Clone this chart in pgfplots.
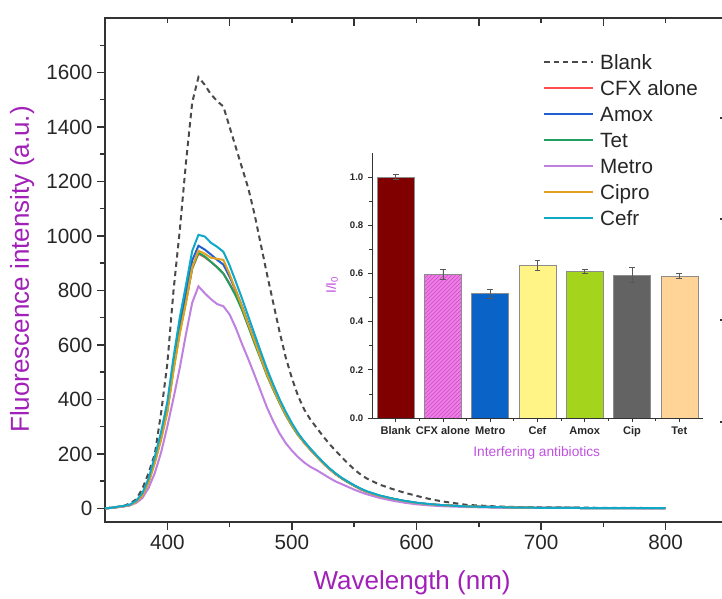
\documentclass[border=0pt]{standalone}
\usepackage{pgfplots}
\pgfplotsset{compat=1.18}
\usepackage{pgfplotstable}
\usepackage{fontspec}
\setmainfont{Liberation Sans}
\usetikzlibrary{patterns}

\definecolor{cBlank}{HTML}{4A4A4A}
\definecolor{cCFX}{HTML}{FF4D4D}
\definecolor{cAmox}{HTML}{1F5FD0}
\definecolor{cTet}{HTML}{1FA060}
\definecolor{cMetro}{HTML}{C080E0}
\definecolor{cCipro}{HTML}{E0A020}
\definecolor{cCefr}{HTML}{10A8C8}
\definecolor{labpurple}{HTML}{A020B8}
\definecolor{insetpurple}{HTML}{C050E0}
\definecolor{axgray}{HTML}{333333}
\definecolor{cbarred}{HTML}{800000}
\definecolor{cbarpink}{HTML}{F07CE8}
\definecolor{cbarpinkdark}{HTML}{C850C0}
\definecolor{cbarblue}{HTML}{0A64C8}
\definecolor{cbaryellow}{HTML}{FFF485}
\definecolor{cbargreen}{HTML}{A4D41C}
\definecolor{cbargray}{HTML}{636363}
\definecolor{cbarorange}{HTML}{FFD496}

\pgfplotstableread{
wl blank cfx amox tet metro cipro cefr
350 0 0 0 0 0 0 0
355 2 2 2 2 2 2 2
360 5 5 5 5 4 5 6
365 9 8 8 8 7 8 9
370 18 12 12 12 11 12 14
375 33 24 25 24 20 24 28
380 72 48 50 48 38 47 56
385 130 98 102 97 75 95 110
390 200 172 178 170 130 168 190
395 350 258 266 256 205 252 280
400 530 360 372 358 300 352 390
405 800 515 535 512 405 505 555
410 1020 650 675 648 515 640 700
415 1270 760 790 760 640 755 820
420 1490 880 910 882 755 885 945
425 1583 935 964 938 815 946 1004
430 1555 922 950 925 790 935 998
435 1520 905 932 905 768 920 975
440 1495 885 912 885 750 916 960
445 1475 862 895 862 742 912 942
450 1400 825 850 822 712 860 892
455 1325 785 800 780 662 800 832
460 1250 732 742 728 603 740 770
465 1175 672 680 668 548 676 705
470 1080 612 618 606 490 615 640
475 970 552 556 548 430 553 575
480 860 492 495 488 370 492 512
485 755 440 442 436 320 440 455
490 650 390 392 388 276 390 402
495 555 345 346 342 240 345 355
500 478 305 306 303 212 305 313
505 412 270 271 268 188 270 276
510 362 240 241 244 168 240 245
515 325 214 215 218 152 214 218
520 295 190 190 192 140 190 194
525 265 166 166 168 126 166 170
530 237 145 145 146 112 145 148
535 212 126 126 127 99 126 129
540 188 110 110 111 89 110 112
545 165 96 96 97 79 96 98
550 143 83 83 84 69 83 85
555 125 71 71 72 60 71 73
560 110 61 61 62 52 61 63
570 88 46 46 47 39 46 48
580 72 36 36 36 29 36 37
590 58 27 27 27 21 27 28
600 46 20 20 20 15 20 21
610 35 15 15 15 11 15 16
620 26 12 12 12 8 12 12
640 13 7 7 7 5 7 7
660 8 5 5 5 3 5 5
680 5 3 3 3 2 3 3
700 4 2 2 2 2 2 2
750 2 1 1 1 1 1 1
800 1 1 1 1 0 1 1
}\spectra

\begin{document}
\begin{tikzpicture}
\useasboundingbox (-78.75pt,-57.75pt) rectangle (462.75pt,391.5pt);
% main axis
\begin{axis}[
  at={(0pt,0pt)}, anchor=south west,
  scale only axis, width=467.25pt, height=378pt,
  xmin=350, xmax=850, ymin=-50, ymax=1800,
  xtick={400,500,600,700,800}, minor xtick={450,550,650,750},
  ytick={0,200,...,1600}, minor ytick={100,300,...,1700},
  xtick pos=left, ytick pos=left,
  tick align=outside,
  major tick length=6pt, minor tick length=4pt,
  every tick/.style={axgray, line width=1.1pt},
  axis line style={axgray, line width=1.3pt},
  /pgf/number format/assume math mode=true,
  /pgf/number format/set thousands separator={},
  ticklabel style={font=\fontsize{15.5}{18}\selectfont, text=black!85},
  xlabel={Wavelength (nm)},
  ylabel={Fluorescence intensity (a.u.)},
  label style={font=\fontsize{19.5}{23}\selectfont, text=labpurple},
  xlabel style={at={(axis description cs:0.493,-0.121)}, anchor=center},
  ylabel style={at={(axis description cs:-0.133,0.501)}, anchor=center},
  legend image code/.code={\draw[#1] (0pt,0pt) -- (36.75pt,0pt);},
  legend cell align=left,
  legend style={at={(0.703,0.929)}, anchor=north west, draw=none, fill=none,
    font=\fontsize{15.5}{18}\selectfont, text=black!85, inner sep=0pt, row sep=7.5pt,
    nodes={inner sep=0pt, text height=11.5pt, text depth=0.5pt},
    /tikz/every odd column/.append style={column sep=4.5pt}},
  clip=false,
]
\addplot[cBlank, line width=1.5pt, dash pattern=on 4pt off 3pt] table[x=wl,y=blank]{\spectra};
\addlegendentry{Blank}
\addplot[cCFX, line width=1.5pt] table[x=wl,y=cfx]{\spectra};
\addlegendentry{CFX alone}
\addplot[cAmox, line width=1.5pt] table[x=wl,y=amox]{\spectra};
\addlegendentry{Amox}
\addplot[cTet, line width=1.5pt] table[x=wl,y=tet]{\spectra};
\addlegendentry{Tet}
\addplot[cMetro, line width=1.5pt] table[x=wl,y=metro]{\spectra};
\addlegendentry{Metro}
\addplot[cCipro, line width=1.5pt] table[x=wl,y=cipro]{\spectra};
\addlegendentry{Cipro}
\addplot[cCefr, line width=1.5pt] table[x=wl,y=cefr]{\spectra};
\addlegendentry{Cefr}
\end{axis}
% overlay for top and right ticks
\begin{axis}[
  at={(0pt,0pt)}, anchor=south west,
  scale only axis, width=467.25pt, height=378pt,
  xmin=350, xmax=850, ymin=-50, ymax=1800,
  axis line style={draw=none},
  xtick={450,550,650,750}, minor xtick={400,500,600,700,800},
  ytick={317,691,1062,1433},
  xtick pos=right, ytick pos=right,
  tick align=inside,
  major tick length=6pt, minor tick length=4pt,
  every tick/.style={axgray, line width=1.1pt},
  xticklabels={}, yticklabels={},
]
\addplot[draw=none] coordinates {(400,0)};
\end{axis}
% inset
\begin{axis}[
  at={(200.25pt,78pt)}, anchor=south west,
  scale only axis, width=248.25pt, height=198.75pt,
  xmin=-0.5, xmax=6.5, ymin=0, ymax=1.1,
  axis x line*=bottom, axis y line*=left,
  axis line style={black!80, line width=0.6pt, -},
  xtick={0,...,6}, minor xtick={0.5,1.5,...,5.5},
  xticklabels={Blank, CFX alone, Metro, Cef, Amox, Cip, Tet},
  ytick={0,0.2,...,1.0}, minor ytick={0.1,0.3,...,0.9},
  tick align=outside,
  major tick length=3pt, minor tick length=2pt,
  every tick/.style={black!80, line width=0.6pt},
  xticklabel style={font=\fontsize{8.3}{10}\selectfont\bfseries, text=black!85},
  yticklabel style={font=\fontsize{7.2}{9}\selectfont\bfseries, text=black!85,
    /pgf/number format/fixed, /pgf/number format/fixed zerofill, /pgf/number format/precision=1},
  /pgf/number format/assume math mode=true,
  xlabel={Interfering antibiotics},
  ylabel={I/I\textsubscript{0}},
  label style={font=\fontsize{10.3}{12}\selectfont, text=insetpurple},
  xlabel style={at={(axis description cs:0.4976,-0.132)}, anchor=center},
  ylabel style={at={(axis description cs:-0.121,0.502)}, anchor=center},
  ybar, bar width=27.75pt, bar shift=0pt,
  error bars/y dir=both, error bars/y explicit,
  error bars/error bar style={black!65, line width=0.5pt},
  error bars/error mark options={rotate=90, black!65, mark size=2.2pt, line width=0.5pt},
]
\addplot[fill=cbarred, draw=black!45, line width=0.5pt] coordinates {(0,1.0) +- (0,0.01)};
\addplot[fill=cbarpink, draw=black!45, line width=0.5pt, postaction={pattern=north east lines, pattern color=cbarpinkdark}] coordinates {(1,0.597) +- (0,0.02)};
\addplot[fill=cbarblue, draw=black!45, line width=0.5pt] coordinates {(2,0.516) +- (0,0.02)};
\addplot[fill=cbaryellow, draw=black!45, line width=0.5pt] coordinates {(3,0.634) +- (0,0.02)};
\addplot[fill=cbargreen, draw=black!45, line width=0.5pt] coordinates {(4,0.610) +- (0,0.009)};
\addplot[fill=cbargray, draw=black!45, line width=0.5pt] coordinates {(5,0.594) +- (0,0.031)};
\addplot[fill=cbarorange, draw=black!45, line width=0.5pt] coordinates {(6,0.590) +- (0,0.01)};
\end{axis}
\end{tikzpicture}
\end{document}
